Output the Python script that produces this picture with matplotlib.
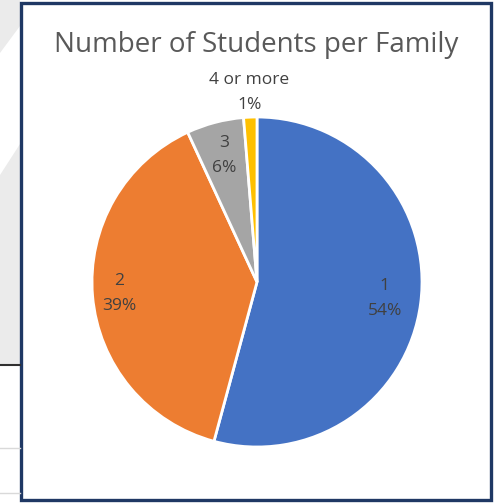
import numpy as np
import matplotlib
matplotlib.use('Agg')
import matplotlib.pyplot as plt
from matplotlib.patches import Rectangle, Polygon

plt.rcParams['font.family'] = ['Open Sans', 'DejaVu Sans']

sTitle = 'Number of Students per Family'
aCategory = ['1', '2', '3', '4 or more']
aValue = [54.2, 38.9, 5.6, 1.3]
aColor = ['#4472C4', '#ED7D31', '#A5A5A5', '#FFC000']
# distance of each data label from the pie centre (in radius units)
aLabel_radius = [0.78, 0.84, 0.79, 1.15]

iWidth = 494
iHeight = 504
fig = plt.figure(figsize=(iWidth / 100, iHeight / 100), dpi=100)

#background of the slide behind the chart (pixel coordinates, y down)
ax_bg = fig.add_axes([0, 0, 1, 1])
ax_bg.set_xlim(0, iWidth)
ax_bg.set_ylim(iHeight, 0)
ax_bg.axis('off')
ax_bg.add_patch(Rectangle((0, 0), 20, 364, facecolor='#EBEBEB', edgecolor='none'))
ax_bg.add_patch(Polygon([(0, 53), (20, 26), (20, 144), (0, 175)], facecolor='white', edgecolor='none'))
ax_bg.plot([0, 20], [364.5, 364.5], color='#303030', lw=1.5)
ax_bg.plot([0, 20], [448, 448], color='#D9D9D9', lw=1)
ax_bg.plot([0, 20], [493, 493], color='#D9D9D9', lw=1)
ax_bg.add_patch(Rectangle((21, 3), 470, 497, facecolor='white', edgecolor='#1F3864', lw=2.4))

ax_bg.text(256, 45, sTitle, ha='center', va='center', fontsize=20, color='#595959')

#pie
cx, cy, r = 257, 282, 165
ax = fig.add_axes([(cx - r) / iWidth, (iHeight - cy - r) / iHeight, 2 * r / iWidth, 2 * r / iHeight])
wedges, _ = ax.pie(aValue, colors=aColor, startangle=90, counterclock=False,
                   radius=1, wedgeprops=dict(edgecolor='white', linewidth=2))
ax.set_xlim(-1, 1)
ax.set_ylim(-1, 1)
ax.set_aspect('equal')
ax.axis('off')

fTotal = sum(aValue)
for i, w in enumerate(wedges):
    theta = np.deg2rad((w.theta1 + w.theta2) / 2)
    rr = aLabel_radius[i]
    sPct = '{:.0f}%'.format(100 * aValue[i] / fTotal)
    ax.text(rr * np.cos(theta), rr * np.sin(theta), aCategory[i] + '\n' + sPct,
            ha='center', va='center', fontsize=12.5, color='#404040', linespacing=1.75)

plt.savefig('out.png', dpi=100)
